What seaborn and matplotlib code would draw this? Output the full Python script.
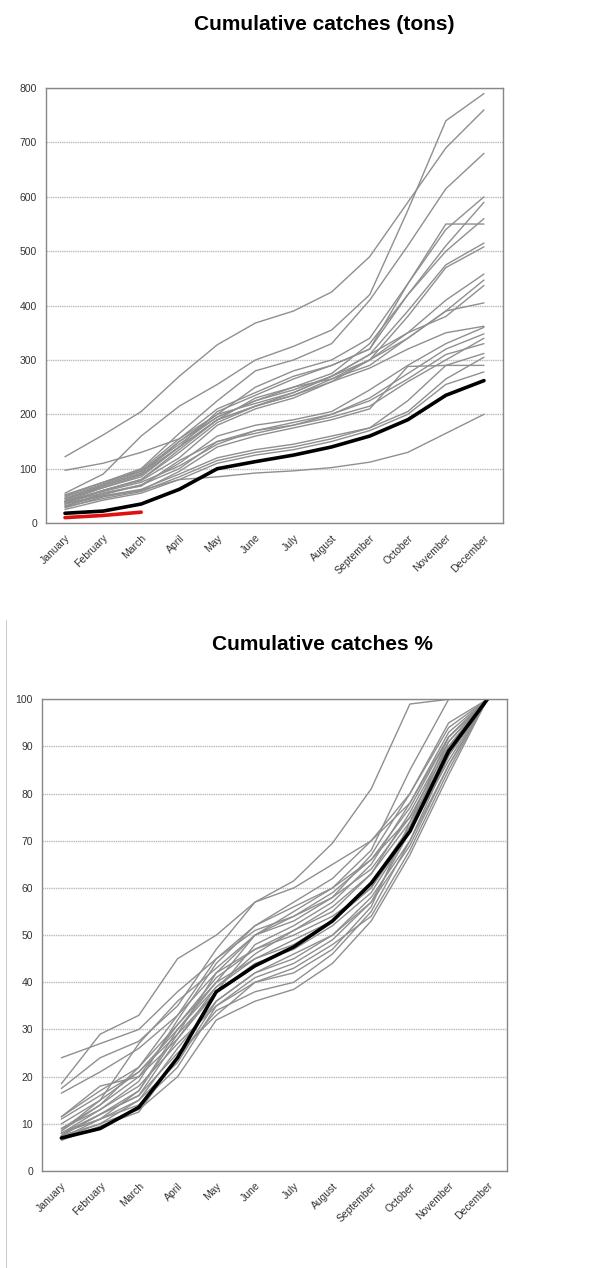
import matplotlib
matplotlib.use("Agg")
import matplotlib.pyplot as plt
import seaborn as sns
import pandas as pd
from matplotlib.lines import Line2D

months = ["January", "February", "March", "April", "May", "June", "July",
          "August", "September", "October", "November", "December"]

# cumulative catches in tons, one list per year
tons_years = [
    [122, 162, 205, 270, 328, 368, 390, 425, 490, 590, 690, 760],
    [55, 90, 160, 215, 255, 300, 325, 355, 420, 575, 740, 790],
    [50, 75, 100, 165, 225, 280, 300, 330, 410, 510, 615, 680],
    [45, 70, 95, 150, 200, 250, 280, 300, 340, 440, 540, 600],
    [40, 65, 85, 140, 205, 235, 265, 290, 320, 420, 510, 590],
    [48, 72, 98, 155, 210, 240, 270, 290, 320, 440, 550, 550],
    [42, 68, 90, 150, 195, 225, 250, 275, 330, 420, 500, 560],
    [38, 60, 80, 135, 190, 215, 240, 270, 310, 390, 475, 515],
    [52, 75, 95, 145, 195, 225, 245, 270, 300, 380, 470, 508],
    [97, 110, 130, 155, 200, 220, 240, 270, 310, 350, 410, 458],
    [35, 60, 80, 130, 185, 215, 235, 265, 290, 340, 390, 447],
    [45, 65, 88, 140, 190, 230, 250, 265, 300, 350, 380, 437],
    [40, 60, 78, 120, 180, 210, 230, 260, 300, 340, 390, 405],
    [30, 55, 70, 110, 160, 180, 190, 205, 245, 290, 330, 360],
    [35, 52, 70, 100, 150, 170, 180, 200, 230, 275, 320, 348],
    [38, 55, 68, 115, 150, 165, 180, 195, 215, 260, 300, 340],
    [32, 50, 62, 90, 120, 135, 145, 160, 175, 225, 290, 312],
    [28, 48, 60, 95, 140, 160, 175, 190, 210, 288, 290, 290],
    [30, 45, 58, 85, 115, 130, 140, 155, 175, 205, 265, 305],
    [25, 42, 55, 80, 110, 125, 135, 150, 170, 200, 255, 278],
    [35, 50, 60, 80, 85, 92, 96, 102, 112, 130, 165, 200],
    [45, 68, 92, 140, 190, 215, 235, 260, 285, 320, 350, 362],
    [40, 58, 75, 105, 145, 170, 185, 200, 225, 265, 310, 330],
]
tons_mean = [18, 22, 35, 62, 100, 113, 125, 140, 160, 190, 235, 262]
tons_current = [10, 14, 20]

# cumulative catches as % of the yearly total
pct_years = [
    [24, 27, 30, 38, 45, 52, 57, 62, 70, 80, 95, 100],
    [18.5, 29, 33, 45, 50, 57, 60, 65, 70, 78, 93, 100],
    [17.5, 24, 27.5, 35, 47, 57, 61.5, 69.5, 81, 99, 100, 100],
    [16.5, 21, 26, 33, 42, 50, 55, 60, 68, 85, 100, 100],
    [11.5, 17, 22, 31, 40, 50, 53, 58, 67, 80, 94, 100],
    [11, 16, 21, 29, 38, 48, 52, 57, 65, 78, 92, 100],
    [11.5, 18, 20, 28, 39, 46, 51, 56, 63, 76, 91, 100],
    [8.5, 15, 27, 36, 43, 50, 54, 59, 66, 77, 92, 100],
    [8, 13, 19, 32, 44, 52, 56, 60, 66, 75, 90, 100],
    [7.5, 12, 17, 29, 42, 47, 51, 55, 63, 74, 89, 100],
    [8, 11, 15, 26, 36, 42, 46, 50, 58, 70, 86, 100],
    [7, 10, 13, 20, 32, 36, 38.5, 44, 53, 67, 84, 100],
    [6.5, 9.5, 12.5, 24, 34, 38, 40, 46, 55, 70, 88, 100],
    [8, 11, 17, 30, 40, 45, 48, 53, 60, 72, 88, 100],
    [9, 13, 18, 27, 35, 41, 44, 49, 57, 72, 90, 100],
    [7.5, 12, 16, 25, 33, 40, 42, 47, 56, 74, 92, 100],
    [8.5, 14, 20, 31, 41, 47, 50, 54, 60, 73, 91, 100],
    [9, 14, 22, 33, 45, 51, 54, 58, 64, 75, 90, 100],
    [7, 11, 14, 22, 35, 40, 43, 48, 54, 68, 85, 100],
    [8, 12, 16, 28, 38, 44, 47, 52, 59, 72, 87, 100],
    [10, 15, 21, 30, 39, 45, 49, 53, 61, 73, 89, 100],
    [7.5, 10, 15, 23, 36, 42, 45, 50, 57, 69, 86, 100],
]
pct_mean = [7, 9, 13.5, 24, 38, 43.5, 47.5, 53, 61, 72, 89, 100]


def to_long(series_list):
    rows = []
    for i, s in enumerate(series_list):
        for m, v in enumerate(s):
            rows.append({"year": i, "month": m, "value": v})
    return pd.DataFrame(rows)


def style_axes(ax, ymax, ystep):
    ax.set_xlim(-0.5, 11.5)
    ax.set_ylim(0, ymax)
    ax.set_yticks(range(0, ymax + 1, ystep))
    ax.set_xticks(range(12))
    ax.set_xticklabels(months, rotation=45, ha="right", rotation_mode="anchor",
                       fontsize=7.5, color="#333333")
    ax.set_xticks([x - 0.5 for x in range(13)], minor=True)
    ax.tick_params(axis="x", which="major", length=0, pad=7)
    ax.tick_params(axis="x", which="minor", length=4, color="#888888", direction="out")
    ax.tick_params(axis="y", length=3, color="#888888", labelsize=7.5, labelcolor="#333333")
    ax.grid(axis="y", color="#bbbbbb", lw=1, ls=(0, (1, 0.6)))
    ax.grid(axis="x", visible=False)
    for sp in ax.spines.values():
        sp.set_visible(True)
        sp.set_color("#888888")
        sp.set_linewidth(1)
    ax.set_xlabel("")
    ax.set_ylabel("")
    ax.set_facecolor("white")


sns.set_style("white")
plt.rcParams["font.family"] = ["Liberation Sans", "DejaVu Sans"]

fig = plt.figure(figsize=(5.89, 12.68), dpi=100)

# top panel: tons
ax1 = fig.add_axes([0.078, 0.5875, 0.776, 0.343])
sns.lineplot(data=to_long(tons_years), x="month", y="value", units="year",
             estimator=None, color="#8f8f8f", lw=1.0, ax=ax1, legend=False)
sns.lineplot(x=list(range(12)), y=tons_mean, color="black", lw=2.6, ax=ax1)
sns.lineplot(x=list(range(3)), y=tons_current, color="#e01010", lw=2.6, ax=ax1)
style_axes(ax1, 800, 100)

# bottom panel: %
ax2 = fig.add_axes([0.0713, 0.0765, 0.789, 0.372])
sns.lineplot(data=to_long(pct_years), x="month", y="value", units="year",
             estimator=None, color="#8f8f8f", lw=1.0, ax=ax2, legend=False)
sns.lineplot(x=list(range(12)), y=pct_mean, color="black", lw=2.6, ax=ax2)
style_axes(ax2, 100, 10)

fig.text(0.55, 1 - 25 / 1268, "Cumulative catches (tons)", ha="center", va="center",
         fontsize=15, fontweight="bold", color="black")
fig.text(0.547, 1 - 645 / 1268, "Cumulative catches %", ha="center", va="center",
         fontsize=15, fontweight="bold", color="black")

# thin frame edge at the left of the lower picture
fig.add_artist(Line2D([6 / 589, 6 / 589], [0, 1 - 620 / 1268], color="#cccccc", lw=0.8))

fig.savefig("out.png", dpi=100, facecolor="white")
